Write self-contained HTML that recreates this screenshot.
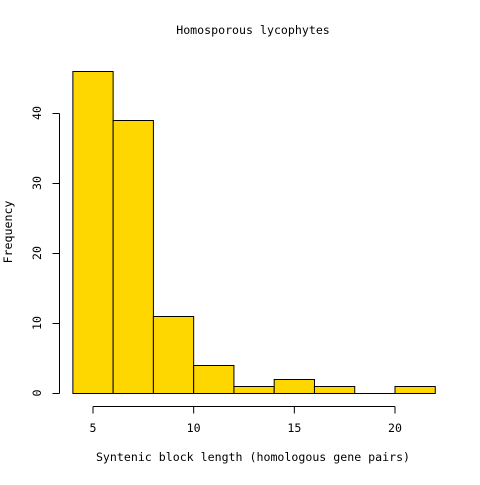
<!DOCTYPE html><html><head><style>body{margin:0;background:#fff}svg text{font-family:"DejaVu Sans Mono","Liberation Mono",monospace;font-size:11.6px;fill:#000}</style></head><body>
<svg id="c" width="480" height="480" xmlns="http://www.w3.org/2000/svg">
<rect width="480" height="480" fill="#fff"/>
<text x="253" y="34" text-anchor="middle">Homosporous lycophytes</text>
<text x="253" y="461" text-anchor="middle">Syntenic block length (homologous gene pairs)</text>
<text transform="translate(12,232) rotate(-90)" text-anchor="middle">Frequency</text>
<g id="bars"></g><g id="ax"></g>
</svg>
<script>
const binStarts=[4,6,8,10,12,14,16,18,20];
const binWidth=2;
const counts=[46,39,11,4,1,2,1,0,1];
const xTicks=[5,10,15,20];
const yTicks=[0,10,20,30,40];
const X=v=>93+(v-5)*(302/15), Y=v=>393-v*7;
const ns="http://www.w3.org/2000/svg";
const bars=document.getElementById('bars'), ax=document.getElementById('ax');
function mk(t,a,p){const e=document.createElementNS(ns,t);for(const k in a)e.setAttribute(k,a[k]);p.appendChild(e);return e;}
binStarts.forEach((s,i)=>{
 const r=mk('rect',{x:X(s),y:Y(counts[i])+.5,width:X(s+binWidth)-X(s),height:Math.max(Y(0)-Y(counts[i]),0.01),fill:'#FFD700',stroke:'#000','stroke-width':1},bars);
 
 
});
let l=mk('line',{x1:X(xTicks[0]),x2:X(xTicks[xTicks.length-1]),y1:406.5,y2:406.5,stroke:'#000'},ax);


xTicks.forEach(v=>{mk('line',{x1:X(v),x2:X(v),y1:406.5,y2:413.5,stroke:'#000'},ax);
 const t=mk('text',{x:X(v),y:432,'text-anchor':'middle'},ax);t.textContent=v;
 
 });
l=mk('line',{x1:59.5,x2:59.5,y1:Y(yTicks[0])+.5,y2:Y(yTicks[yTicks.length-1])+.5,stroke:'#000'},ax);


yTicks.forEach(v=>{mk('line',{x1:52.5,x2:59.5,y1:Y(v)+.5,y2:Y(v)+.5,stroke:'#000'},ax);
 const t=mk('text',{transform:`translate(41,${Y(v)}) rotate(-90)`,'text-anchor':'middle'},ax);t.textContent=v;
 
 });
</script></body></html>
